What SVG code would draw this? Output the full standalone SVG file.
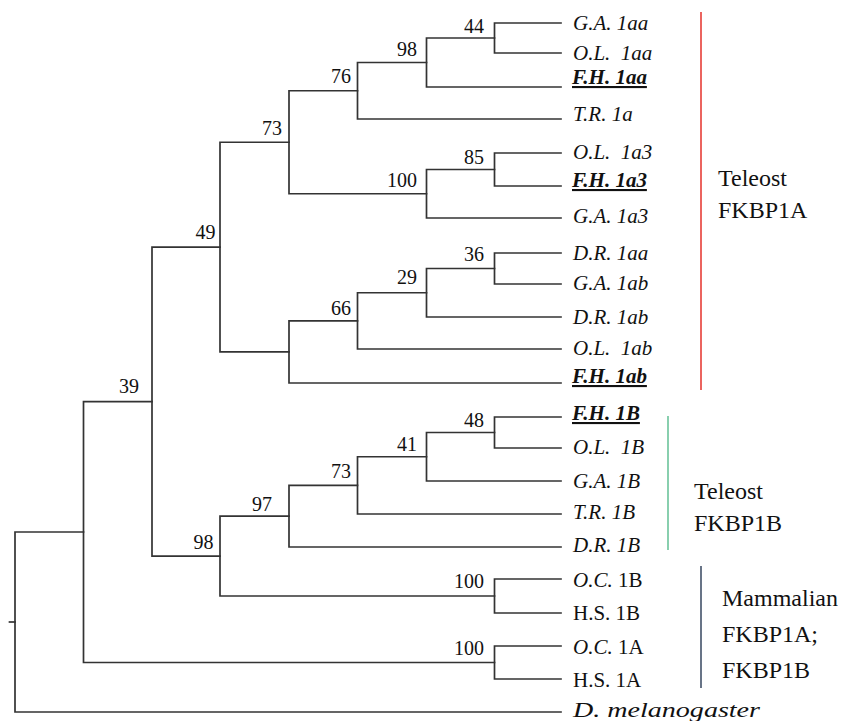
<svg xmlns="http://www.w3.org/2000/svg" width="843" height="721" viewBox="0 0 843 721">
<style>
.br{fill:none;stroke:#333;stroke-width:1.7;stroke-linecap:square}
.bs{font-family:"Liberation Serif","Times New Roman",serif;font-size:20px;text-anchor:end;fill:#111}
.lf{font-family:"Liberation Serif","Times New Roman",serif;font-size:21px;font-style:italic;fill:#111}
.fh{font-weight:bold;text-decoration:underline}
.rm{font-style:normal}
.grp{font-family:"Liberation Serif","Times New Roman",serif;font-size:24px;fill:#111}
</style>
<rect width="843" height="721" fill="#fff"/>
<g id="connectors">
<path class="br" d="M561,23H494.5V53H561"/>
<path class="br" d="M494.5,38H426.5V87H561"/>
<path class="br" d="M426.5,62.5H357.5V119H561"/>
<path class="br" d="M561,153H494.5V186H561"/>
<path class="br" d="M494.5,169.5H426.5V218H561"/>
<path class="br" d="M357.5,90.75H289V193.75H426.5"/>
<path class="br" d="M561,253H494.5V284H561"/>
<path class="br" d="M494.5,268.5H426.5V317H561"/>
<path class="br" d="M426.5,292.75H357.5V349H561"/>
<path class="br" d="M357.5,320.9H289V383H561"/>
<path class="br" d="M289,142.25H220V351.9H289"/>
<path class="br" d="M561,417H494.5V448H561"/>
<path class="br" d="M494.5,432.5H426.5V481H561"/>
<path class="br" d="M426.5,456.75H357.5V514H561"/>
<path class="br" d="M357.5,485.4H289V547H561"/>
<path class="br" d="M561,579H494.5V613H561"/>
<path class="br" d="M289,516.2H220V596H494.5"/>
<path class="br" d="M220,247.1H152V556.1H220"/>
<path class="br" d="M561,646H494.5V679H561"/>
<path class="br" d="M152,401.6H83.5V662.5H494.5"/>
<path class="br" d="M83.5,532H15V712H561"/>
<path class="br" d="M9.5,622H15"/>
</g>
<g id="bootstrap">
<g id="b44"><text class="bs" x="484" y="33">44</text></g>
<g id="b98a"><text class="bs" x="417" y="55.5">98</text></g>
<g id="b76"><text class="bs" x="351" y="83">76</text></g>
<g id="b73a"><text class="bs" x="282" y="135">73</text></g>
<g id="b85"><text class="bs" x="484" y="164">85</text></g>
<g id="b100a"><text class="bs" x="417" y="187">100</text></g>
<g id="b36"><text class="bs" x="484" y="261">36</text></g>
<g id="b29"><text class="bs" x="417" y="284">29</text></g>
<g id="b66"><text class="bs" x="351" y="315">66</text></g>
<g id="b49"><text class="bs" x="215.5" y="238.5">49</text></g>
<g id="b48"><text class="bs" x="484" y="426.5">48</text></g>
<g id="b41"><text class="bs" x="417" y="451">41</text></g>
<g id="b73b"><text class="bs" x="351" y="478">73</text></g>
<g id="b97"><text class="bs" x="272" y="510.5">97</text></g>
<g id="b98b"><text class="bs" x="213.5" y="548.5">98</text></g>
<g id="b100b"><text class="bs" x="484" y="587.5">100</text></g>
<g id="b39"><text class="bs" x="139" y="393">39</text></g>
<g id="b100c"><text class="bs" x="484" y="654.5">100</text></g>
</g>
<g id="leaves">
<g id="GA1aa"><text class="lf" x="573" y="30">G.A. 1aa</text></g>
<g id="OL1aa"><text class="lf" x="573" y="60" xml:space="preserve">O.L.  1aa</text></g>
<g id="FH1aa"><text class="lf fh" x="572" y="84">F.H. 1aa</text></g>
<g id="TR1a"><text class="lf" x="573" y="121">T.R. 1a</text></g>
<g id="OL1a3"><text class="lf" x="573" y="159" xml:space="preserve">O.L.  1a3</text></g>
<g id="FH1a3"><text class="lf fh" x="572" y="187">F.H. 1a3</text></g>
<g id="GA1a3"><text class="lf" x="573" y="223">G.A. 1a3</text></g>
<g id="DR1aa"><text class="lf" x="573" y="260">D.R. 1aa</text></g>
<g id="GA1ab"><text class="lf" x="573" y="290">G.A. 1ab</text></g>
<g id="DR1ab"><text class="lf" x="573" y="324">D.R. 1ab</text></g>
<g id="OL1ab"><text class="lf" x="573" y="355" xml:space="preserve">O.L.  1ab</text></g>
<g id="FH1ab"><text class="lf fh" x="572" y="383">F.H. 1ab</text></g>
<g id="FH1B"><text class="lf fh" x="572" y="420">F.H. 1B</text></g>
<g id="OL1B"><text class="lf" x="573" y="454" xml:space="preserve">O.L.  1B</text></g>
<g id="GA1B"><text class="lf" x="573" y="488">G.A. 1B</text></g>
<g id="TR1B"><text class="lf" x="573" y="519">T.R. 1B</text></g>
<g id="DR1B"><text class="lf" x="573" y="552">D.R. 1B</text></g>
<g id="OC1B"><text class="lf" x="573" y="587">O.C.<tspan class="rm"> 1B</tspan></text></g>
<g id="HS1B"><text class="lf rm" x="573" y="620">H.S. 1B</text></g>
<g id="OC1A"><text class="lf" x="573" y="654">O.C.<tspan class="rm"> 1A</tspan></text></g>
<g id="HS1A"><text class="lf rm" x="573" y="687">H.S. 1A</text></g>
<g id="Dmel"><text class="lf" x="573" y="717" font-size="22" textLength="187" lengthAdjust="spacingAndGlyphs">D. melanogaster</text></g>
</g>
<g id="clade-teleost-1a">
<line x1="701" y1="12" x2="701" y2="390" stroke="#e5302a" stroke-width="1.5"/>
<text class="grp" x="718" y="186">Teleost</text>
<text class="grp" x="718" y="218">FKBP1A</text>
</g>
<g id="clade-teleost-1b">
<line x1="668" y1="416" x2="668" y2="550" stroke="#7ccaa6" stroke-width="1.8"/>
<text class="grp" x="694" y="499">Teleost</text>
<text class="grp" x="694" y="531">FKBP1B</text>
</g>
<g id="clade-mammalian">
<line x1="701" y1="566" x2="701" y2="688" stroke="#36465f" stroke-width="1.5"/>
<text class="grp" x="722" y="606">Mammalian</text>
<text class="grp" x="722" y="642">FKBP1A;</text>
<text class="grp" x="722" y="678">FKBP1B</text>
</g>
</svg>
